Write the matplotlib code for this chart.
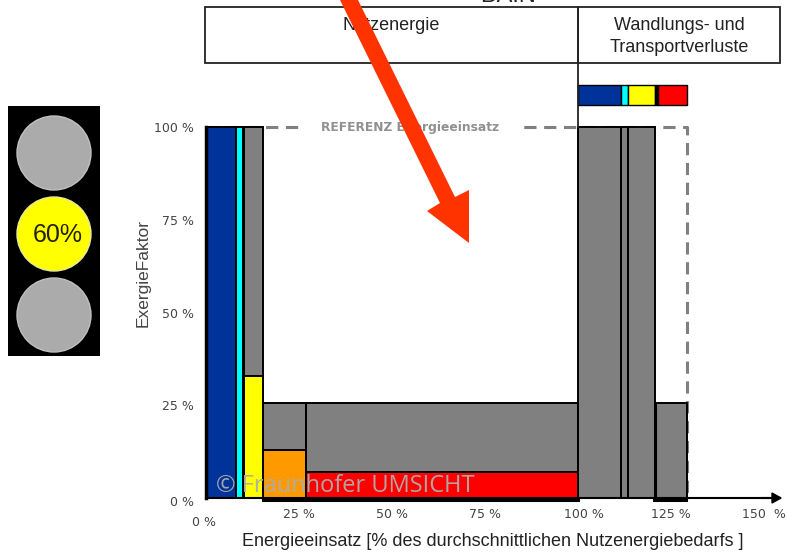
import matplotlib
matplotlib.use("Agg")
import matplotlib.pyplot as plt
from matplotlib.patches import Rectangle, Circle, Polygon
from matplotlib.transforms import ScaledTranslation

W, H = 787, 552

# bars: left edge, width, height, colour (percent units)
bar_left = [0.4, 8.0, 10.2, 10.2, 15.4, 15.4, 26.9, 26.9, 100.0, 111.6, 113.5, 120.8]
bar_width = [7.6, 2.0, 5.1, 5.1, 11.5, 11.5, 73.1, 73.1, 11.6, 1.9, 7.2, 8.4]
bar_height = [100, 100, 100, 33, 25.5, 13, 25.5, 7, 100, 100, 100, 25.5]
bar_colors = ['#003399', '#00FFFF', '#808080', '#FFFF00', '#808080', '#FF9900',
              '#808080', '#FF0000', '#808080', '#808080', '#808080', '#808080']

# thin stacked strip over the losses
strip_left = [100.0, 111.6, 113.5, 120.8, 121.6]
strip_width = [11.6, 1.9, 7.3, 0.8, 7.6]
strip_colors = ['#003399', '#00FFFF', '#FFFF00', '#000000', '#FF0000']

ref_x = [0, 129.2, 129.2]
ref_y = [100, 100, 0]

x_ticks = [25, 50, 75, 100, 125, 150]
x_labels = ['25 %', '50 %', '75 %', '100 %', '125 %', '150  %']
y_ticks = [25, 50, 75, 100]
y_labels = ['25 %', '50 %', '75 %', '100 %']

plt.rcParams['font.family'] = ['Liberation Sans', 'DejaVu Sans']
tick_font = ['DejaVu Sans']

fig = plt.figure(figsize=(W / 100, H / 100), dpi=100)
ax = fig.add_axes([206 / W, 1 - 498 / H, (780 - 206) / W, (498 - 127) / H])
ax.set_xlim(0, 574 / 3.72)
ax.set_ylim(0, 100)

ax.plot(ref_x, ref_y, color='#808080', lw=2.2, ls=(0, (4, 2.5)), clip_on=False, zorder=1)
for l, w, h, c in zip(bar_left, bar_width, bar_height, bar_colors):
    ax.bar(l, h, w, align='edge', color=c, edgecolor='black', lw=1.4, clip_on=False, zorder=2)
for l, w, c in zip(strip_left, strip_width, strip_colors):
    ax.bar(l, 5.2, w, bottom=106, align='edge', color=c, edgecolor='black', lw=1.0, clip_on=False, zorder=2)

for s in ['top', 'right']:
    ax.spines[s].set_visible(False)
ax.spines['left'].set_linewidth(2.5)
ax.spines['left'].set_zorder(3)
ax.spines['bottom'].set_linewidth(1.5)
ax.spines['bottom'].set_zorder(3)
ax.set_xticks(x_ticks, x_labels, fontsize=9, color='#444444', family=tick_font)
ax.set_yticks(y_ticks, y_labels, fontsize=9, color='#444444', family=tick_font)
ax.tick_params(axis='both', length=0)
ax.tick_params(axis='x', pad=7.5)
ax.tick_params(axis='y', pad=8.5)
# the 100 % label sits a little right of its position in the original
lab = ax.get_xticklabels()[3]
lab.set_transform(lab.get_transform() + ScaledTranslation(0.06, 0, fig.dpi_scale_trans))
ax.set_xlabel('Energieeinsatz [% des durchschnittlichen Nutzenergiebedarfs ]', fontsize=13,
              color='#222222', x=(493 - 206) / 574, labelpad=8.5)
ax.set_ylabel('ExergieFaktor', fontsize=12.5, color='#444444', y=(498 - 273) / 371, labelpad=3)

# overlay in pixel coordinates for the boxes, traffic light and arrow
ov = fig.add_axes([0, 0, 1, 1], zorder=5)
ov.set_xlim(0, W)
ov.set_ylim(H, 0)
ov.axis('off')

ov.text(204, 522, '0 %', fontsize=9, color='#444444', ha='center', va='center', family=tick_font)
ov.text(194, 503, '0 %', fontsize=9, color='#444444', ha='right', va='center', family=tick_font)
ov.plot([762, 780], [498, 498], color='black', lw=1.5)
ov.add_patch(Polygon([[772, 493], [781, 498], [772, 503]], color='black'))
# heavier baseline under the bars that start past the first block
ov.plot([263, 578], [499.5, 499.5], color='black', lw=2.2)
ov.plot([654, 686], [499.5, 499.5], color='black', lw=2.2)
ov.plot([655, 655], [404, 499], color='black', lw=2.2)

ov.add_patch(Rectangle((205, 7), 373, 56, fc='none', ec='#222222', lw=1.3))
ov.add_patch(Rectangle((578, 7), 202, 56, fc='none', ec='#222222', lw=1.3))
ov.plot([578, 578], [63, 127], color='#222222', lw=1.3)
ov.text(391, 25, 'Nutzenergie', fontsize=13, color='#222222', ha='center', va='center')
ov.text(679, 25, 'Wandlungs- und', fontsize=13, color='#222222', ha='center', va='center')
ov.text(679, 48, 'Transportverluste', fontsize=13, color='#222222', ha='center', va='center')
ov.text(533, -4, 'BAIN  · · ·', fontsize=17, color='#222222', ha='center', va='center', clip_on=True)

ov.add_patch(Rectangle((304, 117), 214, 18, fc='white', ec='none'))
ov.text(410, 127, 'REFERENZ Energieeinsatz', fontsize=8.8, color='#909090', weight='bold',
        ha='center', va='center', family=tick_font)
ov.text(345, 486, '© Fraunhofer UMSICHT', fontsize=17, color='#ADADAD', alpha=0.95,
        ha='center', va='center', family=['Open Sans', 'DejaVu Sans'])

ov.add_patch(Rectangle((8, 106), 92, 250, fc='black', ec='none'))
for cy, col, edge in zip([153, 234, 315], ['#ABABAB', '#FFFF00', '#ABABAB'], ['#C0C0C0', '#E8E8A0', '#C0C0C0']):
    ov.add_patch(Circle((54, cy), 37, fc=col, ec=edge, lw=1))
ov.text(58, 235, '60%', fontsize=18, color='#222200', ha='center', va='center')

ov.add_patch(Polygon([[340, 0], [358, 0], [455, 197], [469, 190], [469, 243], [427, 211], [440, 203]],
                     fc='#FF3300', ec='none', zorder=6))

fig.savefig('out.png', dpi=100)
